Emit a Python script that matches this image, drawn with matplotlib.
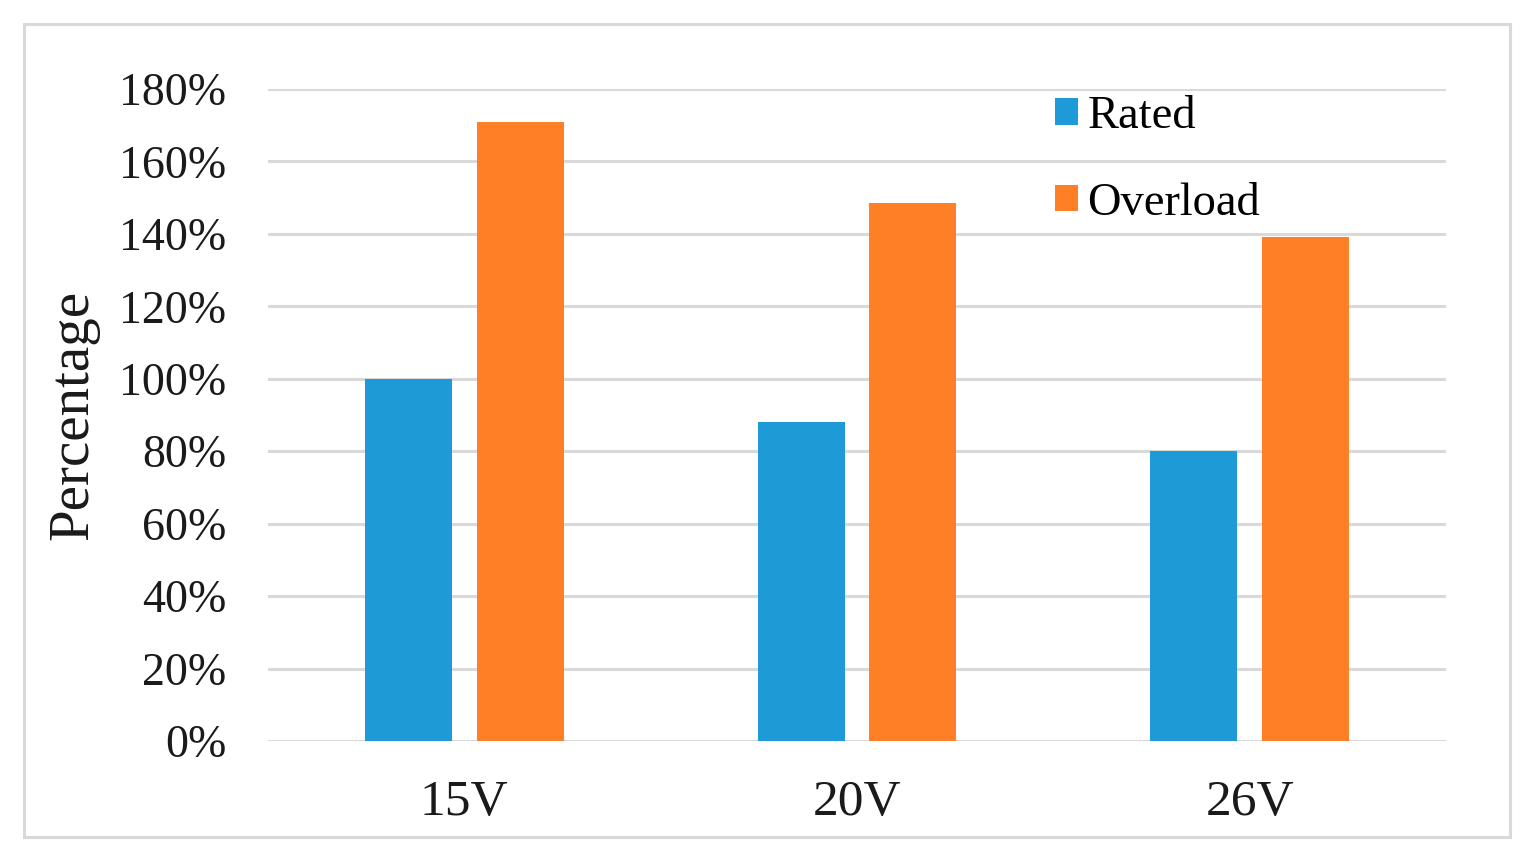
import numpy as np
import matplotlib.pyplot as plt
from matplotlib.patches import Rectangle

# Data
categories = ["15V", "20V", "26V"]
rated = [100, 88, 80]
overload = [171, 148.5, 139]
yticks = [0, 20, 40, 60, 80, 100, 120, 140, 160, 180]

plt.rcParams['font.family'] = ['Liberation Serif', 'DejaVu Serif']

fig = plt.figure(figsize=(15.29, 8.64), dpi=100)
ax = fig.add_axes([0.1753, 0.1424, 0.7704, 0.7546])

# outer frame around the chart
fig.patches.append(Rectangle((0.0157, 0.0313), 0.9719, 0.9407, transform=fig.transFigure,
                             fill=False, edgecolor='#d9d9d9', linewidth=2.2))

x = np.arange(len(categories))
w = 0.222
off = 0.142
ax.bar(x - off, rated, w, color='#1e9bd7', label='Rated', zorder=3)
ax.bar(x + off, overload, w, color='#ff7f27', label='Overload', zorder=3)

ax.set_xlim(-0.5, 2.5)
ax.set_ylim(0, 180)
ax.set_yticks(yticks)
ax.set_yticklabels([f"{t}%" for t in yticks])
ax.set_xticks(x)
ax.set_xticklabels(categories)

ax.tick_params(axis='y', length=0, pad=30, labelsize=33, labelcolor='#1a1a1a')
ax.tick_params(axis='x', length=0, pad=28, labelsize=37, labelcolor='#1a1a1a')

ax.yaxis.grid(True, color='#d9d9d9', linewidth=2.2, zorder=0)
ax.set_axisbelow(True)
for s in ax.spines.values():
    s.set_visible(False)

ax.set_ylabel("Percentage", fontsize=41, color='#1a1a1a', labelpad=14)

ax.legend(loc='upper left', bbox_to_anchor=(0.668, 0.99), frameon=False, fontsize=33.5,
          handlelength=0.5, handleheight=0.5, handletextpad=0.2, labelspacing=0.95,
          borderpad=0, borderaxespad=0)

fig.savefig("out.png", dpi=100)
